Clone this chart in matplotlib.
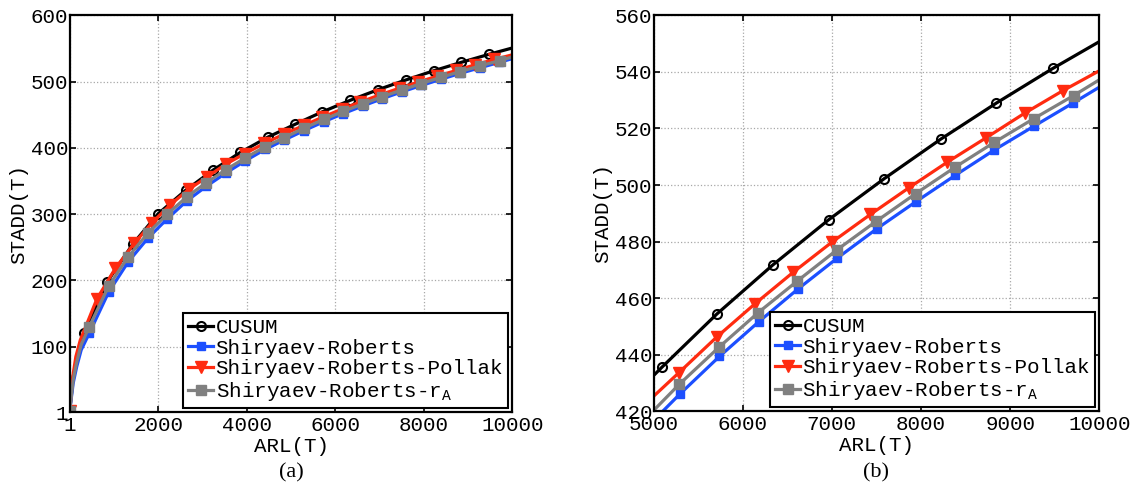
import matplotlib
matplotlib.use("Agg")
import matplotlib.pyplot as plt

plt.rcParams['font.family'] = ['Liberation Mono', 'DejaVu Sans']
plt.rcParams['font.size'] = 15

# CUSUM: first three points after x=1 are curve points without markers
cusum_arl = [1, 80, 160, 250, 330, 850, 1428, 2001, 2621, 3241, 3853, 4473,
             5091, 5710, 6336, 6963, 7589, 8220, 8846, 9477, 10000]
cusum_stadd = [3, 55, 82, 105, 120, 198, 255, 300.7, 336, 366.5, 393, 416,
               435.5, 454.4, 471.7, 487.7, 502.3, 516.2, 529.0, 541.2, 550.7]

sr_arl = [1, 80, 160, 260, 441, 882, 1323, 1764, 2205, 2646, 3087, 3528, 3969,
          4410, 4851, 5295, 5739, 6178, 6618, 7058, 7502, 7942, 8382, 8822,
          9266, 9705, 10000]
sr_stadd = [3, 45, 70, 95, 120, 182.5, 228, 263.5, 293, 320, 342, 362, 380.5,
            397.5, 412, 426.1, 439.4, 451.6, 463.2, 474.1, 484.5, 494.1, 503.4,
            512.4, 520.8, 529.0, 534.6]

srp_arl = [1, 60, 140, 240, 615, 1030, 1460, 1860, 2270, 2690, 3110, 3530,
           3960, 4400, 4840, 5286, 5710, 6141, 6568, 6996, 7432, 7863, 8295,
           8730, 9162, 9593, 10000]
srp_stadd = [3, 50, 85, 110, 172, 218, 256, 287, 314, 337.4, 356.5, 375.5,
             391.4, 406.8, 420.6, 433.7, 446.3, 458.1, 469.2, 479.7, 489.6,
             499.0, 508.1, 516.7, 525.4, 533.4, 540.4]

sra_arl = [1, 80, 160, 260, 441, 882, 1323, 1764, 2205, 2646, 3087, 3528, 3969,
           4410, 4851, 5290, 5739, 6174, 6614, 7058, 7498, 7942, 8382, 8822,
           9266, 9710, 10000]
sra_stadd = [3, 50, 77, 103, 130, 191.5, 235.7, 271, 300, 326, 347.5, 367, 385,
             401.5, 415.5, 429.6, 442.8, 454.9, 466.1, 477.1, 487.2, 497.0,
             506.3, 515.1, 523.5, 531.6, 537.2]


def marks(n):
    # point 0 and all but the three head points and the end point carry markers
    return [0] + list(range(4, n - 1))


series = [
    (cusum_arl, cusum_stadd, 'CUSUM', 'k',
     dict(marker='o', ms=6.5, mfc='none', mew=1.5)),
    (sr_arl, sr_stadd, 'Shiryaev-Roberts', '#1c4fff',
     dict(marker='s', ms=6)),
    (srp_arl, srp_stadd, 'Shiryaev-Roberts-Pollak', '#ff2b10',
     dict(marker='v', ms=8.5)),
    (sra_arl, sra_stadd, 'Shiryaev-Roberts-r$_\\mathregular{A}$', '#808080',
     dict(marker='s', ms=6.5)),
]

fig = plt.figure(figsize=(11.37, 4.86), dpi=100)
ax1 = fig.add_axes([0.0613, 0.1516, 0.3894, 0.817])
ax2 = fig.add_axes([0.5748, 0.1537, 0.3921, 0.8148])

for ax in (ax1, ax2):
    for x, y, label, color, mk in series:
        ax.plot(x, y, color=color, lw=2.3, label=label,
                markevery=marks(len(x)), **mk)
    ax.grid(True, linestyle=':', color='#a8a8a8', lw=0.9)
    ax.tick_params(direction='in', top=True, right=True, length=4,
                   width=1.2)
    ax.tick_params(axis='y', pad=1)
    ax.tick_params(axis='x', pad=3)
    for s in ax.spines.values():
        s.set_linewidth(1.6)
    ax.set_xlabel('ARL(T)', labelpad=1)
    ax.set_ylabel('STADD(T)', labelpad=2)
    leg = ax.legend(loc='lower right', fancybox=False, edgecolor='k',
                    framealpha=1, handlelength=1.2, handletextpad=0.1,
                    labelspacing=0.08, borderpad=0.25, borderaxespad=0.2,
                    fontsize=15)
    leg.get_frame().set_linewidth(1.5)

ax1.set_xlim(1, 10000)
ax1.set_ylim(1, 600)
ax1.set_xticks([1, 2000, 4000, 6000, 8000, 10000])
ax1.set_yticks([1, 100, 200, 300, 400, 500, 600])

ax2.set_xlim(5000, 10000)
ax2.set_ylim(420, 560)
ax2.set_xticks(range(5000, 10001, 1000))
ax2.set_yticks(range(420, 561, 20))

fig.text(0.2560, 0.027, '(a)', ha='center', va='center',
         family='Liberation Serif', fontsize=16)
fig.text(0.7708, 0.027, '(b)', ha='center', va='center',
         family='Liberation Serif', fontsize=16)

fig.savefig('out.png', dpi=100)
